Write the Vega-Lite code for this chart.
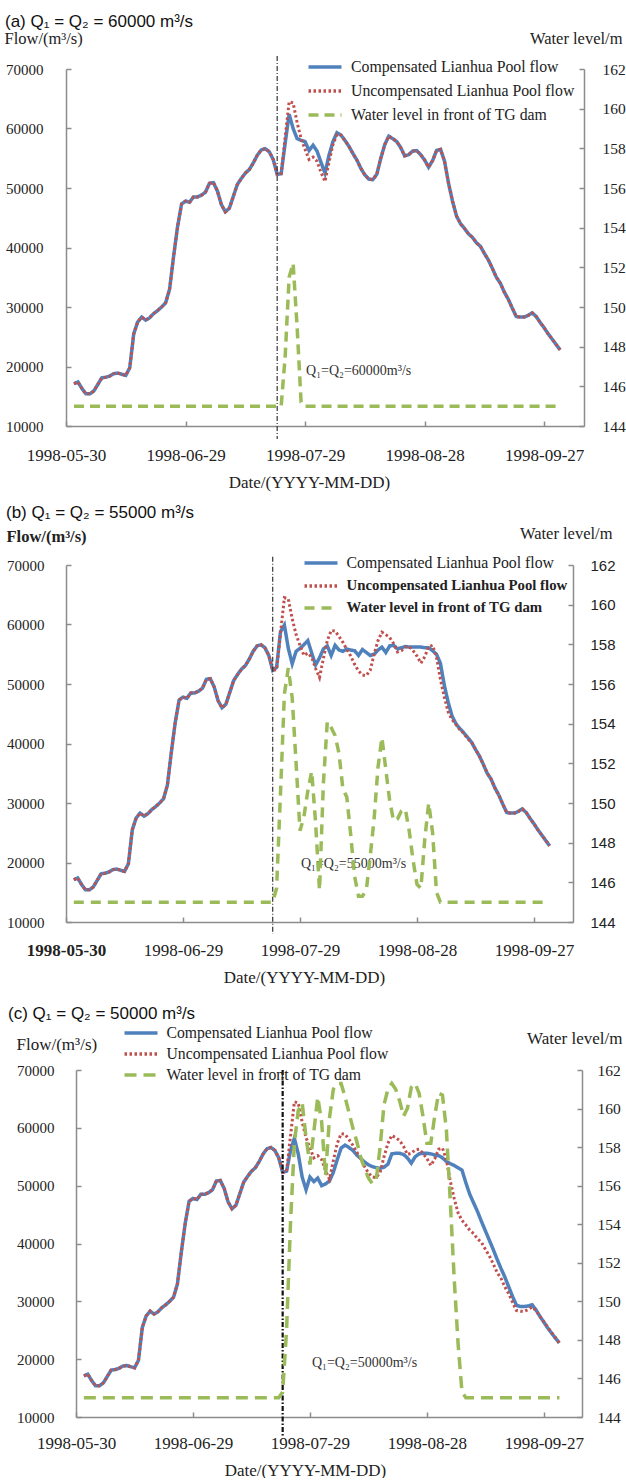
{
"$schema": "https://vega.github.io/schema/vega-lite/v6.json",
"padding": {"left": 4, "top": 13, "right": 0, "bottom": 0},
"background": "white",
"spacing": 20,
"datasets": {
"fl": [
{"d":"1998-06-01","u":17100,"a":17100,"b":17100,"c":17100},
{"d":"1998-06-02","u":17400,"a":17400,"b":17400,"c":17400},
{"d":"1998-06-03","u":16300,"a":16300,"b":16300,"c":16300},
{"d":"1998-06-04","u":15400,"a":15400,"b":15400,"c":15400},
{"d":"1998-06-05","u":15400,"a":15400,"b":15400,"c":15400},
{"d":"1998-06-06","u":15900,"a":15900,"b":15900,"c":15900},
{"d":"1998-06-07","u":17000,"a":17000,"b":17000,"c":17000},
{"d":"1998-06-08","u":18100,"a":18100,"b":18100,"c":18100},
{"d":"1998-06-09","u":18200,"a":18200,"b":18200,"c":18200},
{"d":"1998-06-10","u":18400,"a":18400,"b":18400,"c":18400},
{"d":"1998-06-11","u":18800,"a":18800,"b":18800,"c":18800},
{"d":"1998-06-12","u":18900,"a":18900,"b":18900,"c":18900},
{"d":"1998-06-13","u":18700,"a":18700,"b":18700,"c":18700},
{"d":"1998-06-14","u":18500,"a":18500,"b":18500,"c":18500},
{"d":"1998-06-15","u":19800,"a":19800,"b":19800,"c":19800},
{"d":"1998-06-16","u":25500,"a":25500,"b":25500,"c":25500},
{"d":"1998-06-17","u":27500,"a":27500,"b":27500,"c":27500},
{"d":"1998-06-18","u":28300,"a":28300,"b":28300,"c":28300},
{"d":"1998-06-19","u":27800,"a":27800,"b":27800,"c":27800},
{"d":"1998-06-20","u":28200,"a":28200,"b":28200,"c":28200},
{"d":"1998-06-21","u":28900,"a":28900,"b":28900,"c":28900},
{"d":"1998-06-22","u":29400,"a":29400,"b":29400,"c":29400},
{"d":"1998-06-23","u":30000,"a":30000,"b":30000,"c":30000},
{"d":"1998-06-24","u":30700,"a":30700,"b":30700,"c":30700},
{"d":"1998-06-25","u":33000,"a":33000,"b":33000,"c":33000},
{"d":"1998-06-26","u":38500,"a":38500,"b":38500,"c":38500},
{"d":"1998-06-27","u":43500,"a":43500,"b":43500,"c":43500},
{"d":"1998-06-28","u":47300,"a":47300,"b":47300,"c":47300},
{"d":"1998-06-29","u":47800,"a":47800,"b":47800,"c":47800},
{"d":"1998-06-30","u":47600,"a":47600,"b":47600,"c":47600},
{"d":"1998-07-01","u":48500,"a":48500,"b":48500,"c":48500},
{"d":"1998-07-02","u":48500,"a":48500,"b":48500,"c":48500},
{"d":"1998-07-03","u":48800,"a":48800,"b":48800,"c":48800},
{"d":"1998-07-04","u":49300,"a":49300,"b":49300,"c":49300},
{"d":"1998-07-05","u":50800,"a":50800,"b":50800,"c":50800},
{"d":"1998-07-06","u":50900,"a":50900,"b":50900,"c":50900},
{"d":"1998-07-07","u":49500,"a":49500,"b":49500,"c":49500},
{"d":"1998-07-08","u":47200,"a":47200,"b":47200,"c":47200},
{"d":"1998-07-09","u":46000,"a":46000,"b":46000,"c":46000},
{"d":"1998-07-10","u":46600,"a":46600,"b":46600,"c":46600},
{"d":"1998-07-11","u":48600,"a":48600,"b":48600,"c":48600},
{"d":"1998-07-12","u":50600,"a":50600,"b":50600,"c":50600},
{"d":"1998-07-13","u":51600,"a":51600,"b":51600,"c":51600},
{"d":"1998-07-14","u":52500,"a":52500,"b":52500,"c":52500},
{"d":"1998-07-15","u":53100,"a":53100,"b":53100,"c":53100},
{"d":"1998-07-16","u":54200,"a":54200,"b":54200,"c":54200},
{"d":"1998-07-17","u":55500,"a":55500,"b":55500,"c":55500},
{"d":"1998-07-18","u":56400,"a":56400,"b":56400,"c":56400},
{"d":"1998-07-19","u":56600,"a":56600,"b":56600,"c":56600},
{"d":"1998-07-20","u":56100,"a":56100,"b":56100,"c":56100},
{"d":"1998-07-21","u":54800,"a":54800,"b":54800,"c":54800},
{"d":"1998-07-22","u":52300,"a":52300,"b":52300,"c":52300},
{"d":"1998-07-23","u":52400,"a":52400,"b":52800,"c":52500},
{"d":"1998-07-24","u":58500,"a":57500,"b":58800,"c":56000},
{"d":"1998-07-25","u":64500,"a":62400,"b":59900,"c":58200},
{"d":"1998-07-26","u":64300,"a":60000,"b":56000,"c":55500},
{"d":"1998-07-27","u":61000,"a":58300,"b":53400,"c":51500},
{"d":"1998-07-28","u":58300,"a":58000,"b":55500,"c":49300},
{"d":"1998-07-29","u":56500,"a":57800,"b":56000,"c":51500},
{"d":"1998-07-30","u":54800,"a":56300,"b":56600,"c":50700},
{"d":"1998-07-31","u":55200,"a":57200,"b":57300,"c":51300},
{"d":"1998-08-01","u":54500,"a":56200,"b":55200,"c":50000},
{"d":"1998-08-02","u":52600,"a":54300,"b":53200,"c":50300},
{"d":"1998-08-03","u":51100,"a":52500,"b":54400,"c":50800},
{"d":"1998-08-04","u":54300,"a":55500,"b":55900,"c":52300},
{"d":"1998-08-05","u":57300,"a":57800,"b":56400,"c":54500},
{"d":"1998-08-06","u":59000,"a":59300,"b":54800,"c":56500},
{"d":"1998-08-07","u":58900,"a":58900,"b":56500,"c":57000},
{"d":"1998-08-08","u":58000,"a":58000,"b":55700,"c":56600},
{"d":"1998-08-09","u":57000,"a":57000,"b":55500,"c":56100},
{"d":"1998-08-10","u":55800,"a":55800,"b":55900,"c":55300},
{"d":"1998-08-11","u":54700,"a":54700,"b":55700,"c":54700},
{"d":"1998-08-12","u":53300,"a":53300,"b":55600,"c":54100},
{"d":"1998-08-13","u":52200,"a":52200,"b":54800,"c":53600},
{"d":"1998-08-14","u":51500,"a":51500,"b":55800,"c":53300},
{"d":"1998-08-15","u":51400,"a":51400,"b":55300,"c":53100},
{"d":"1998-08-16","u":52300,"a":52300,"b":54800,"c":53000},
{"d":"1998-08-17","u":55000,"a":55000,"b":55000,"c":53200},
{"d":"1998-08-18","u":57300,"a":57300,"b":55700,"c":53700},
{"d":"1998-08-19","u":58700,"a":58700,"b":56200,"c":55500},
{"d":"1998-08-20","u":58300,"a":58300,"b":55300,"c":55600},
{"d":"1998-08-21","u":57800,"a":57800,"b":56400,"c":55600},
{"d":"1998-08-22","u":56800,"a":56800,"b":56500,"c":55400},
{"d":"1998-08-23","u":55400,"a":55400,"b":55900,"c":54800},
{"d":"1998-08-24","u":55600,"a":55600,"b":56100,"c":53900},
{"d":"1998-08-25","u":56200,"a":56200,"b":56300,"c":55000},
{"d":"1998-08-26","u":56300,"a":56300,"b":56200,"c":55500},
{"d":"1998-08-27","u":55600,"a":55600,"b":56200,"c":55600},
{"d":"1998-08-28","u":54700,"a":54700,"b":56200,"c":55600},
{"d":"1998-08-29","u":53500,"a":53500,"b":56200,"c":55500},
{"d":"1998-08-30","u":54600,"a":54600,"b":56100,"c":55300},
{"d":"1998-08-31","u":56300,"a":56300,"b":56100,"c":55200},
{"d":"1998-09-01","u":56500,"a":56500,"b":55600,"c":54800},
{"d":"1998-09-02","u":54500,"a":54500,"b":55000,"c":54200},
{"d":"1998-09-03","u":50800,"a":50800,"b":53500,"c":53800},
{"d":"1998-09-04","u":47800,"a":47800,"b":49800,"c":53500},
{"d":"1998-09-05","u":45300,"a":45300,"b":46900,"c":53100},
{"d":"1998-09-06","u":44000,"a":44000,"b":44600,"c":52700},
{"d":"1998-09-07","u":43200,"a":43200,"b":43300,"c":50500},
{"d":"1998-09-08","u":42300,"a":42300,"b":42500,"c":48500},
{"d":"1998-09-09","u":41700,"a":41700,"b":41800,"c":47000},
{"d":"1998-09-10","u":40800,"a":40800,"b":41000,"c":45500},
{"d":"1998-09-11","u":40200,"a":40200,"b":40200,"c":43800},
{"d":"1998-09-12","u":39000,"a":39000,"b":39000,"c":42200},
{"d":"1998-09-13","u":37900,"a":37900,"b":37900,"c":40600},
{"d":"1998-09-14","u":36500,"a":36500,"b":36500,"c":39000},
{"d":"1998-09-15","u":35000,"a":35000,"b":35000,"c":37300},
{"d":"1998-09-16","u":34000,"a":34000,"b":34000,"c":35700},
{"d":"1998-09-17","u":32500,"a":32500,"b":32500,"c":34200},
{"d":"1998-09-18","u":31300,"a":31300,"b":31300,"c":32500},
{"d":"1998-09-19","u":29800,"a":29800,"b":29800,"c":30800},
{"d":"1998-09-20","u":28400,"a":28400,"b":28400,"c":29300},
{"d":"1998-09-21","u":28300,"a":28300,"b":28300,"c":29100},
{"d":"1998-09-22","u":28300,"a":28300,"b":28300,"c":29100},
{"d":"1998-09-23","u":28600,"a":28600,"b":28600,"c":29200},
{"d":"1998-09-24","u":29000,"a":29000,"b":29000,"c":29400},
{"d":"1998-09-25","u":28400,"a":28400,"b":28400,"c":28500},
{"d":"1998-09-26","u":27400,"a":27400,"b":27400,"c":27400},
{"d":"1998-09-27","u":26500,"a":26500,"b":26500,"c":26400},
{"d":"1998-09-28","u":25500,"a":25500,"b":25500,"c":25400},
{"d":"1998-09-29","u":24600,"a":24600,"b":24600,"c":24500},
{"d":"1998-09-30","u":23700,"a":23700,"b":23700,"c":23600},
{"d":"1998-10-01","u":22800,"a":22800,"b":22800,"c":22800}
],
"lv": [
{"d":"1998-06-01","la":145,"lb":145,"lc":145},
{"d":"1998-07-21","la":145,"lb":145,"lc":145},
{"d":"1998-07-22","la":145,"lb":145,"lc":145.3},
{"d":"1998-07-23","la":145,"lb":145.7,"lc":148.5},
{"d":"1998-07-24","la":147.5,"lb":150.5,"lc":154.0},
{"d":"1998-07-25","la":151.5,"lb":155.5,"lc":158.2},
{"d":"1998-07-26","la":152.2,"lb":156.8,"lc":159.9},
{"d":"1998-07-27","la":149.0,"lb":155.3,"lc":160.3},
{"d":"1998-07-28","la":145.2,"lb":152.0,"lc":158.5},
{"d":"1998-07-29","la":145,"lb":148.6,"lc":157.1},
{"d":"1998-07-30","la":145,"lb":149.3,"lc":158.8},
{"d":"1998-07-31","la":145,"lb":150.6,"lc":160.6},
{"d":"1998-08-01","la":145,"lb":151.6,"lc":159.3},
{"d":"1998-08-02","la":145,"lb":149.0,"lc":156.5},
{"d":"1998-08-03","la":145,"lb":145.6,"lc":159.5},
{"d":"1998-08-04","la":145,"lb":151.0,"lc":161.0},
{"d":"1998-08-05","la":145,"lb":154.1,"lc":161.3},
{"d":"1998-08-06","la":145,"lb":153.8,"lc":161.3},
{"d":"1998-08-07","la":145,"lb":153.4,"lc":160.6},
{"d":"1998-08-08","la":145,"lb":152.5,"lc":159.8},
{"d":"1998-08-09","la":145,"lb":150.7,"lc":159.0},
{"d":"1998-08-10","la":145,"lb":150.3,"lc":158.3},
{"d":"1998-08-11","la":145,"lb":148.4,"lc":157.5},
{"d":"1998-08-12","la":145,"lb":146.3,"lc":156.9},
{"d":"1998-08-13","la":145,"lb":145.3,"lc":156.4},
{"d":"1998-08-14","la":145,"lb":145.3,"lc":156.1},
{"d":"1998-08-15","la":145,"lb":145.6,"lc":156.3},
{"d":"1998-08-16","la":145,"lb":147.3,"lc":158.0},
{"d":"1998-08-17","la":145,"lb":149.2,"lc":160.2},
{"d":"1998-08-18","la":145,"lb":151.8,"lc":161.0},
{"d":"1998-08-19","la":145,"lb":153.3,"lc":161.3},
{"d":"1998-08-20","la":145,"lb":151.7,"lc":161.0},
{"d":"1998-08-21","la":145,"lb":150.1,"lc":160.4},
{"d":"1998-08-22","la":145,"lb":149.1,"lc":159.6},
{"d":"1998-08-23","la":145,"lb":149.2,"lc":160.0},
{"d":"1998-08-24","la":145,"lb":149.6,"lc":161.1},
{"d":"1998-08-25","la":145,"lb":149.7,"lc":161.3},
{"d":"1998-08-26","la":145,"lb":148.6,"lc":160.8},
{"d":"1998-08-27","la":145,"lb":147.1,"lc":159.6},
{"d":"1998-08-28","la":145,"lb":145.9,"lc":158.2},
{"d":"1998-08-29","la":145,"lb":145.7,"lc":158.2},
{"d":"1998-08-30","la":145,"lb":148.2,"lc":159.6},
{"d":"1998-08-31","la":145,"lb":150.0,"lc":160.8},
{"d":"1998-09-01","la":145,"lb":148.5,"lc":160.7},
{"d":"1998-09-02","la":145,"lb":145.5,"lc":158.9},
{"d":"1998-09-03","la":145,"lb":145,"lc":155.2},
{"d":"1998-09-04","la":145,"lb":145,"lc":151.2},
{"d":"1998-09-05","la":145,"lb":145,"lc":147.8},
{"d":"1998-09-06","la":145,"lb":145,"lc":145.3},
{"d":"1998-09-07","la":145,"lb":145,"lc":145},
{"d":"1998-10-01","la":145,"lb":145,"lc":145}
]
},
"vconcat": [
{"spacing": 14,
"resolve": {"scale": {"color": "independent", "strokeDash": "independent"}, "legend": {"color": "independent", "strokeDash": "independent"}},
"vconcat": [
{
"width": 518, "height": 357,
"title": {"text": "(a) Q₁ = Q₂ = 60000 m³/s", "anchor": "start", "frame": "group", "dx": -61, "dy": 3, "offset": 2, "font": "Liberation Sans", "fontSize": 17, "fontWeight": "normal", "color": "#111"},
"layer": [
{"layer": [
{"data": {"name": "fl"}, "mark": {"type": "line", "strokeWidth": 3.5},
"encoding": {
"x": {"field": "d", "type": "temporal", "scale": {"type": "utc", "domain": [{"year":1998,"month":5,"date":30,"utc":true},{"year":1998,"month":10,"date":7,"utc":true}]},
"axis": {"values": [{"year":1998,"month":5,"date":30,"utc":true},{"year":1998,"month":6,"date":29,"utc":true},{"year":1998,"month":7,"date":29,"utc":true},{"year":1998,"month":8,"date":28,"utc":true},{"year":1998,"month":9,"date":27,"utc":true}], "format": "%Y-%m-%d", "labelFlush": false, "labelFontSize": 17, "labelPadding": 26, "title": "Date/(YYYY-MM-DD)", "titleFontSize": 17, "titleX": 243, "titleY": 56, "titleAlign": "center", "titleBaseline": "middle"}},
"y": {"field": "a", "type": "quantitative", "scale": {"domain": [10000, 70000]}, "axis": {"values": [10000,20000,30000,40000,50000,60000,70000], "format": "d", "labelFontSize": 15, "labelPadding": 28, "title": "Flow/(m³/s)", "titleAngle": 0, "titleAlign": "left", "titleBaseline": "alphabetic", "titleX": -62, "titleY": -26, "titleFontSize": 16.5}},
"color": {"datum": "Compensated Lianhua Pool flow", "scale": {"domain": ["Compensated Lianhua Pool flow","Uncompensated Lianhua Pool flow","Water level in front of TG dam"], "range": ["#4F81BD","#C0504D","#9BBB59"]}, "legend": {"orient": "none", "legendX": 249, "legendY": -12, "title": null, "symbolType": "M-2,0H2", "symbolSize": 272, "symbolStrokeWidth": 3.5, "labelFont": "Liberation Serif", "labelFontSize": 15.8, "labelColor": "#222", "labelOffset": 16, "labelLimit": 400, "rowPadding": 6, "padding": 0}},
"strokeDash": {"datum": "Compensated Lianhua Pool flow", "scale": {"domain": ["Compensated Lianhua Pool flow","Uncompensated Lianhua Pool flow","Water level in front of TG dam"], "range": [[1,0],[2.5,2.5],[10,6]]}, "legend": {"orient": "none", "legendX": 249, "legendY": -12, "title": null, "symbolType": "M-2,0H2", "symbolSize": 272, "symbolStrokeWidth": 3.5, "labelFont": "Liberation Serif", "labelFontSize": 15.8, "labelColor": "#222", "labelOffset": 16, "labelLimit": 400, "rowPadding": 6, "padding": 0}}
}},
{"data": {"name": "fl"}, "mark": {"type": "line", "strokeWidth": 3},
"encoding": {"x": {"field": "d", "type": "temporal"}, "y": {"field": "u", "type": "quantitative"}, "color": {"datum": "Uncompensated Lianhua Pool flow"}, "strokeDash": {"datum": "Uncompensated Lianhua Pool flow"}}},
{"data": {"values": [{"d": "1998-07-22", "t": 72200, "b": 7800}]}, "mark": {"type": "rule", "color": "#333", "strokeWidth": 1.2, "strokeDash": [5,2,1,2], "clip": false},
"encoding": {"x": {"field": "d", "type": "temporal"}, "y": {"field": "t", "type": "quantitative"}, "y2": {"field": "b"}}},
{"data": {"values": [{"d": "1998-07-29T06:00:00Z", "f": 19300, "t": "Q₁=Q₂=60000m³/s"}]}, "mark": {"type": "text", "align": "left", "baseline": "middle", "font": "Liberation Serif", "fontSize": 14, "color": "#333"},
"encoding": {"x": {"field": "d", "type": "temporal"}, "y": {"field": "f", "type": "quantitative"}, "text": {"field": "t"}}}
]},
{"data": {"name": "lv"}, "mark": {"type": "line", "strokeWidth": 3.5},
"encoding": {"x": {"field": "d", "type": "temporal"}, "y": {"field": "la", "type": "quantitative", "scale": {"domain": [144, 162]}, "axis": {"orient": "right", "values": [144,146,148,150,152,154,156,158,160,162], "labelFontSize": 15.5, "labelPadding": 23, "title": "Water level/m", "titleAngle": 0, "titleAlign": "right", "titleBaseline": "alphabetic", "titleX": 38, "titleY": -26, "titleFontSize": 16.5}},
"color": {"datum": "Water level in front of TG dam"}, "strokeDash": {"datum": "Water level in front of TG dam"}}}
],
"resolve": {"scale": {"y": "independent"}}
},
{
"width": 507, "height": 357,
"title": {"text": "(b) Q₁ = Q₂ = 55000 m³/s", "anchor": "start", "frame": "group", "dx": -60, "offset": 3, "font": "Liberation Sans", "fontSize": 17, "fontWeight": "normal", "color": "#111"},
"layer": [
{"layer": [
{"data": {"name": "fl"}, "mark": {"type": "line", "strokeWidth": 3.5},
"encoding": {
"x": {"field": "d", "type": "temporal", "scale": {"type": "utc", "domain": [{"year":1998,"month":5,"date":30,"utc":true},{"year":1998,"month":10,"date":7,"utc":true}]},
"axis": {"values": [{"year":1998,"month":5,"date":30,"utc":true},{"year":1998,"month":6,"date":29,"utc":true},{"year":1998,"month":7,"date":29,"utc":true},{"year":1998,"month":8,"date":28,"utc":true},{"year":1998,"month":9,"date":27,"utc":true}], "format": "%Y-%m-%d", "labelFlush": false, "labelFontSize": 17, "labelPadding": 25, "labelFontWeight": {"condition": {"test": "datum.index === 0", "value": "bold"}, "value": "normal"}, "title": "Date/(YYYY-MM-DD)", "titleFontSize": 17, "titleX": 238, "titleY": 55, "titleAlign": "center", "titleBaseline": "middle"}},
"y": {"field": "b", "type": "quantitative", "scale": {"domain": [10000, 70000]}, "axis": {"values": [10000,20000,30000,40000,50000,60000,70000], "format": "d", "labelFontSize": 15, "labelPadding": 27, "title": "Flow/(m³/s)", "titleFontWeight": "bold", "titleAngle": 0, "titleAlign": "left", "titleBaseline": "alphabetic", "titleX": -60, "titleY": -24, "titleFontSize": 16.5}},
"color": {"datum": "Compensated Lianhua Pool flow", "scale": {"domain": ["Compensated Lianhua Pool flow","Uncompensated Lianhua Pool flow","Water level in front of TG dam"], "range": ["#4F81BD","#C0504D","#9BBB59"]}, "legend": {"orient": "none", "legendX": 245, "legendY": -12, "title": null, "symbolType": "M-2,0H2", "symbolSize": 272, "symbolStrokeWidth": 3.5, "labelFont": "Liberation Serif", "labelFontSize": 15.8, "labelColor": "#222", "labelOffset": 15.5, "labelLimit": 400, "rowPadding": 5, "padding": 0, "encode": {"labels": {"update": {"fontWeight": {"signal": "datum.label === 'Compensated Lianhua Pool flow' ? 'normal' : 'bold'"}, "fontSize": {"signal": "datum.label === 'Compensated Lianhua Pool flow' ? 15.8 : 14.8"}}}}}},
"strokeDash": {"datum": "Compensated Lianhua Pool flow", "scale": {"domain": ["Compensated Lianhua Pool flow","Uncompensated Lianhua Pool flow","Water level in front of TG dam"], "range": [[1,0],[2.5,2.5],[10,7]]}, "legend": {"orient": "none", "legendX": 245, "legendY": -12, "title": null, "symbolType": "M-2,0H2", "symbolSize": 272, "symbolStrokeWidth": 3.5, "labelFont": "Liberation Serif", "labelFontSize": 15.8, "labelColor": "#222", "labelOffset": 15.5, "labelLimit": 400, "rowPadding": 5, "padding": 0, "encode": {"labels": {"update": {"fontWeight": {"signal": "datum.label === 'Compensated Lianhua Pool flow' ? 'normal' : 'bold'"}, "fontSize": {"signal": "datum.label === 'Compensated Lianhua Pool flow' ? 15.8 : 14.8"}}}}}}
}},
{"data": {"name": "fl"}, "mark": {"type": "line", "strokeWidth": 3},
"encoding": {"x": {"field": "d", "type": "temporal"}, "y": {"field": "u", "type": "quantitative"}, "color": {"datum": "Uncompensated Lianhua Pool flow"}, "strokeDash": {"datum": "Uncompensated Lianhua Pool flow"}}},
{"data": {"values": [{"d": "1998-07-22", "t": 71400, "b": 8000}]}, "mark": {"type": "rule", "color": "#333", "strokeWidth": 1.2, "strokeDash": [5,2,1,2], "clip": false},
"encoding": {"x": {"field": "d", "type": "temporal"}, "y": {"field": "t", "type": "quantitative"}, "y2": {"field": "b"}}},
{"data": {"values": [{"d": "1998-07-29T06:00:00Z", "f": 19700, "t": "Q₁=Q₂=55000m³/s"}]}, "mark": {"type": "text", "align": "left", "baseline": "middle", "font": "Liberation Serif", "fontSize": 14, "color": "#333"},
"encoding": {"x": {"field": "d", "type": "temporal"}, "y": {"field": "f", "type": "quantitative"}, "text": {"field": "t"}}}
]},
{"data": {"name": "lv"}, "mark": {"type": "line", "strokeWidth": 3.5},
"encoding": {"x": {"field": "d", "type": "temporal"}, "y": {"field": "lb", "type": "quantitative", "scale": {"domain": [144, 162]}, "axis": {"orient": "right", "values": [144,146,148,150,152,154,156,158,160,162], "labelFont": "Liberation Sans", "labelFontSize": 15, "labelPadding": 22, "title": "Water level/m", "titleAngle": 0, "titleAlign": "right", "titleBaseline": "alphabetic", "titleX": 39, "titleY": -27, "titleFontSize": 16.5}},
"color": {"datum": "Water level in front of TG dam"}, "strokeDash": {"datum": "Water level in front of TG dam"}}}
],
"resolve": {"scale": {"y": "independent"}}
}
]},
{
"width": 516, "height": 347,
"title": {"text": "(c) Q₁ = Q₂ = 50000 m³/s", "anchor": "start", "frame": "group", "dx": -58, "offset": 0, "font": "Liberation Sans", "fontSize": 17, "fontWeight": "normal", "color": "#111"},
"layer": [
{"layer": [
{"data": {"name": "fl"}, "mark": {"type": "line", "strokeWidth": 3.5},
"encoding": {
"x": {"field": "d", "type": "temporal", "scale": {"type": "utc", "domain": ["1998-05-27T10:00:00Z", "1998-10-06T19:00:00Z"]},
"axis": {"values": [{"year":1998,"month":5,"date":30,"utc":true},{"year":1998,"month":6,"date":29,"utc":true},{"year":1998,"month":7,"date":29,"utc":true},{"year":1998,"month":8,"date":28,"utc":true},{"year":1998,"month":9,"date":27,"utc":true}], "format": "%Y-%m-%d", "labelFlush": false, "labelFontSize": 17, "labelPadding": 23, "domainDash": [0, 10, 700], "title": "Date/(YYYY-MM-DD)", "titleFontSize": 17, "titleX": 239, "titleY": 53, "titleAlign": "center", "titleBaseline": "middle"}},
"y": {"field": "c", "type": "quantitative", "scale": {"domain": [10000, 70000]}, "axis": {"offset": -10, "values": [10000,20000,30000,40000,50000,60000,70000], "format": "d", "labelFontSize": 15, "labelPadding": 27, "title": "Flow/(m³/s)", "titleAngle": 0, "titleAlign": "left", "titleBaseline": "alphabetic", "titleX": -60, "titleY": -21, "titleFontSize": 17}},
"color": {"datum": "Compensated Lianhua Pool flow", "scale": {"domain": ["Compensated Lianhua Pool flow","Uncompensated Lianhua Pool flow","Water level in front of TG dam"], "range": ["#4F81BD","#C0504D","#9BBB59"]}, "legend": {"orient": "none", "legendX": 65, "legendY": -47, "title": null, "symbolType": "M-2,0H2", "symbolSize": 272, "symbolStrokeWidth": 3.5, "labelFont": "Liberation Serif", "labelFontSize": 15.7, "labelColor": "#222", "labelOffset": 15.5, "labelLimit": 400, "rowPadding": 3, "padding": 0}},
"strokeDash": {"datum": "Compensated Lianhua Pool flow", "scale": {"domain": ["Compensated Lianhua Pool flow","Uncompensated Lianhua Pool flow","Water level in front of TG dam"], "range": [[1,0],[2.5,2.5],[12,7]]}, "legend": {"orient": "none", "legendX": 65, "legendY": -47, "title": null, "symbolType": "M-2,0H2", "symbolSize": 272, "symbolStrokeWidth": 3.5, "labelFont": "Liberation Serif", "labelFontSize": 15.7, "labelColor": "#222", "labelOffset": 15.5, "labelLimit": 400, "rowPadding": 3, "padding": 0}}
}},
{"data": {"name": "fl"}, "mark": {"type": "line", "strokeWidth": 3},
"encoding": {"x": {"field": "d", "type": "temporal"}, "y": {"field": "u", "type": "quantitative"}, "color": {"datum": "Uncompensated Lianhua Pool flow"}, "strokeDash": {"datum": "Uncompensated Lianhua Pool flow"}}},
{"data": {"values": [{"d": "1998-07-22", "t": 70000, "b": 6500}]}, "mark": {"type": "rule", "color": "#111", "strokeWidth": 2.2, "strokeDash": [5,2,1.5,2], "clip": false},
"encoding": {"x": {"field": "d", "type": "temporal"}, "y": {"field": "t", "type": "quantitative"}, "y2": {"field": "b"}}},
{"data": {"values": [{"d": "1998-07-29T12:00:00Z", "f": 19300, "t": "Q₁=Q₂=50000m³/s"}]}, "mark": {"type": "text", "align": "left", "baseline": "middle", "font": "Liberation Serif", "fontSize": 14, "color": "#333"},
"encoding": {"x": {"field": "d", "type": "temporal"}, "y": {"field": "f", "type": "quantitative"}, "text": {"field": "t"}}}
]},
{"data": {"name": "lv"}, "mark": {"type": "line", "strokeWidth": 3.5},
"encoding": {"x": {"field": "d", "type": "temporal"}, "y": {"field": "lc", "type": "quantitative", "scale": {"domain": [144, 162]}, "axis": {"orient": "right", "values": [144,146,148,150,152,154,156,158,160,162], "labelFontSize": 15.5, "labelPadding": 20, "title": "Water level/m", "titleAngle": 0, "titleAlign": "right", "titleBaseline": "alphabetic", "titleX": 40, "titleY": -27, "titleFontSize": 17}},
"color": {"datum": "Water level in front of TG dam"}, "strokeDash": {"datum": "Water level in front of TG dam"}}}
],
"resolve": {"scale": {"y": "independent"}}
}
],
"resolve": {"scale": {"color": "independent", "strokeDash": "independent"}, "legend": {"color": "independent", "strokeDash": "independent"}},
"config": {
"view": {"stroke": null},
"axis": {"domainColor": "#8c8c8c", "domainWidth": 1.5, "tickColor": "#8c8c8c", "tickWidth": 1.5, "tickSize": -5, "grid": false, "labelFont": "Liberation Serif", "labelColor": "#222", "titleFont": "Liberation Serif", "titleColor": "#222", "titleFontWeight": "normal", "labelOverlap": false},
"line": {"strokeCap": "butt"}
}
}
